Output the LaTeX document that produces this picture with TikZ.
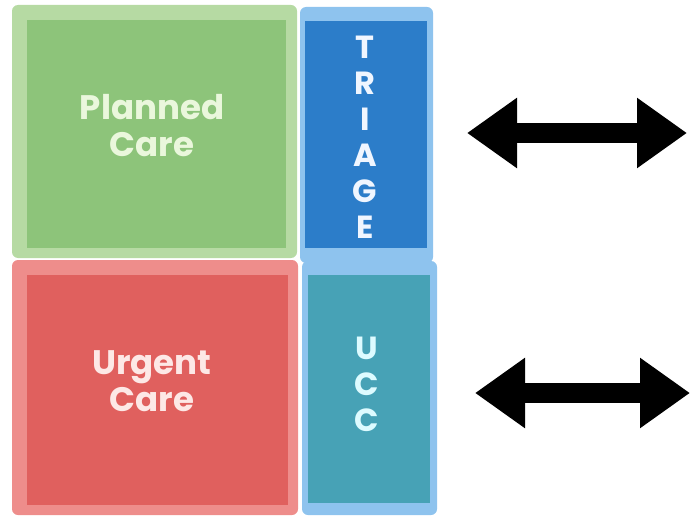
\documentclass[tikz,border=0pt]{standalone}
\usepackage{fontspec}
\setmainfont{Poppins}
\usetikzlibrary{arrows.meta}
\definecolor{plannedrim}{HTML}{B6DAA3}
\definecolor{plannedfill}{HTML}{8DC47A}
\definecolor{plannedtext}{HTML}{EAF7DC}
\definecolor{urgentrim}{HTML}{EE8D8B}
\definecolor{urgentfill}{HTML}{E0605E}
\definecolor{urgenttext}{HTML}{FDE8E6}
\definecolor{siderim}{HTML}{8EC3EE}
\definecolor{triagefill}{HTML}{2C7DC9}
\definecolor{triagetext}{HTML}{F0F6FF}
\definecolor{uccfill}{HTML}{47A2B6}
\definecolor{ucctext}{HTML}{DDFBFF}
\tikzset{
  rimbox/.style={rectangle, rounded corners=6pt, inner sep=0pt},
  corebox/.style={rectangle, inner sep=0pt},
  boxtext/.style={align=center, font=\fontsize{34}{37}\selectfont\bfseries},
  lettertext/.style={align=center, font=\fontsize{32}{36}\selectfont\bfseries},
  linkarrow/.style={line width=20pt, {Triangle[length=50pt,width=67pt]}-{Triangle[length=50pt,width=67pt]}}
}
\begin{document}
\begin{tikzpicture}[x=1pt,y=-1pt]
	\useasboundingbox (0,0) rectangle (691,516);
	% left column
	\node[rimbox, fill=plannedrim, minimum width=285pt, minimum height=253pt] (plannedrim) at (154.5,131.5) {};
	\node[corebox, fill=plannedfill, minimum width=259pt, minimum height=228pt] (planned) at (156.5,134) {};
	\node[rimbox, fill=urgentrim, minimum width=286pt, minimum height=255pt] (urgentrim) at (155,387.5) {};
	\node[corebox, fill=urgentfill, minimum width=261pt, minimum height=230pt] (urgent) at (157.5,390) {};
	% right column
	\node[rimbox, fill=siderim, minimum width=133pt, minimum height=256pt] (triagerim) at (366.5,135) {};
	\node[rimbox, fill=siderim, minimum width=135pt, minimum height=254pt] (uccrim) at (369.5,388) {};
	\node[corebox, fill=triagefill, minimum width=122pt, minimum height=227pt] (triage) at (366,134.5) {};
	\node[corebox, fill=uccfill, minimum width=122pt, minimum height=228pt] (ucc) at (369,389) {};
	% labels
	\node[boxtext, text=plannedtext] (plannedlabel) at (152,126) {Planned\\Care};
	\node[boxtext, text=urgenttext] (urgentlabel) at (152,381) {Urgent\\Care};
	\node[lettertext, text=triagetext] (triagelabel) at (365,137) {T\\R\\I\\A\\G\\E};
	\node[lettertext, text=ucctext] (ucclabel) at (367,384) {U\\C\\C};
	% arrows
	\coordinate (topleft) at (467,133);
	\coordinate (topright) at (687,133);
	\coordinate (lowleft) at (475,393);
	\coordinate (lowright) at (690,393);
	\draw[linkarrow] (topleft) -- (topright);
	\draw[linkarrow] (lowleft) -- (lowright);
\end{tikzpicture}
\end{document}
